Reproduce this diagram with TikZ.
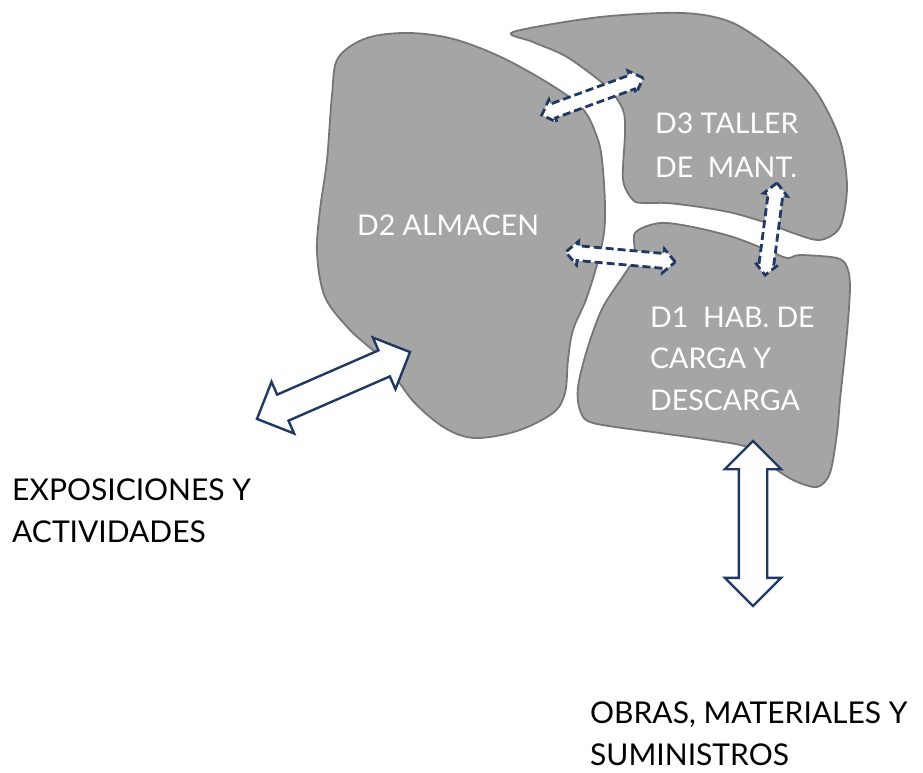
\documentclass[tikz,border=0pt]{standalone}
\usepackage{fontspec}
\setmainfont{Lato}
\usetikzlibrary{shapes.arrows}
\definecolor{navy}{HTML}{1F3864}
\definecolor{blobfill}{HTML}{A5A5A5}
\definecolor{blobline}{HTML}{767676}
\tikzset{
  blob/.style={fill=blobfill, draw=blobline, line width=1.8pt},
  bigarrow/.style={double arrow, draw=navy, fill=white, line width=2.4pt,
    inner xsep=0pt, inner ysep=13pt, minimum width=0pt,
    double arrow head extend=14pt, outer sep=0pt},
  smallarrow/.style={double arrow, draw=navy, fill=white, line width=2.8pt,
    dash pattern=on 8pt off 4pt, inner xsep=0pt, inner ysep=6pt,
    minimum width=0pt, double arrow head extend=4.5pt, outer sep=0pt},
  inlabel/.style={text=white, anchor=base west, inner sep=0pt,
    font=\fontsize{28.5}{32}\selectfont},
  outlabel/.style={text=black, anchor=base west, inner sep=0pt,
    font=\fontsize{30}{34}\selectfont}
}
\begin{document}
\begin{tikzpicture}[x=1pt,y=-1pt]
\useasboundingbox (0,0) rectangle (923,772);
% D2 almacen
\draw[blob] plot[smooth cycle, tension=0.55] coordinates {
  (332,95) (338,58) (367,38) (410,33) (457,40) (513,63) (577,103) (597,137)
  (603,170) (605,220) (600,253) (587,297) (573,330) (568,360) (565,393)
  (553,413) (517,431) (475,438) (445,428) (413,401) (383,360) (350,330)
  (325,297) (317,253) (320,210) (327,160)};
% D3 taller
\draw[blob] plot[smooth cycle, tension=0.5] coordinates {
  (513,32) (600,17) (683,13) (733,23) (783,57) (817,93) (840,140) (847,187)
  (840,227) (820,240) (793,233) (767,223) (733,213) (700,207) (667,203)
  (643,203) (633,200) (623,180) (625,133) (623,110) (607,87) (567,57)
  (533,42)};
% D1 hab. de carga
\draw[blob] plot[smooth cycle, tension=0.5] coordinates {
  (635,233) (660,223) (693,227) (733,237) (767,250) (787,258) (800,255)
  (837,258) (847,267) (850,287) (847,333) (840,400) (837,433) (830,473)
  (817,487) (793,480) (767,463) (747,447) (710,440) (660,433) (593,423)
  (580,410) (578,387) (587,350) (603,307) (633,260)};
% labels inside
\node[inlabel] (d2) at (357,235) {D2 ALMACEN};
\node[inlabel] (d3a) at (655,133) {D3 TALLER};
\node[inlabel] (d3b) at (655,177) {DE\ \ MANT.};
\node[inlabel] (d1a) at (650,327) {D1\ \ HAB. DE};
\node[inlabel] (d1b) at (650,368) {CARGA Y};
\node[inlabel] (d1c) at (650,410) {DESCARGA};
% outside labels
\node[outlabel] (ex1) at (12,500) {EXPOSICIONES Y};
\node[outlabel] (ex2) at (12,542) {ACTIVIDADES};
\node[outlabel] (ob1) at (590,723) {OBRAS, MATERIALES Y};
\node[outlabel] (ob2) at (590,765) {SUMINISTROS};
% dashed connectors between areas
\node[smallarrow, minimum height=108pt, rotate=20.1] (a23) at (592.5,96.5) {};
\node[smallarrow, minimum height=110pt, rotate=-5.2] (a21) at (620.5,257) {};
\node[smallarrow, minimum height=93pt, rotate=82.6] (a31) at (771,229) {};
% big arrows to outside
\node[bigarrow, minimum height=167pt, rotate=23.6] (aex) at (333.5,385.5) {};
\node[bigarrow, minimum height=165pt, rotate=90] (aob) at (753,523.5) {};
\end{tikzpicture}
\end{document}
